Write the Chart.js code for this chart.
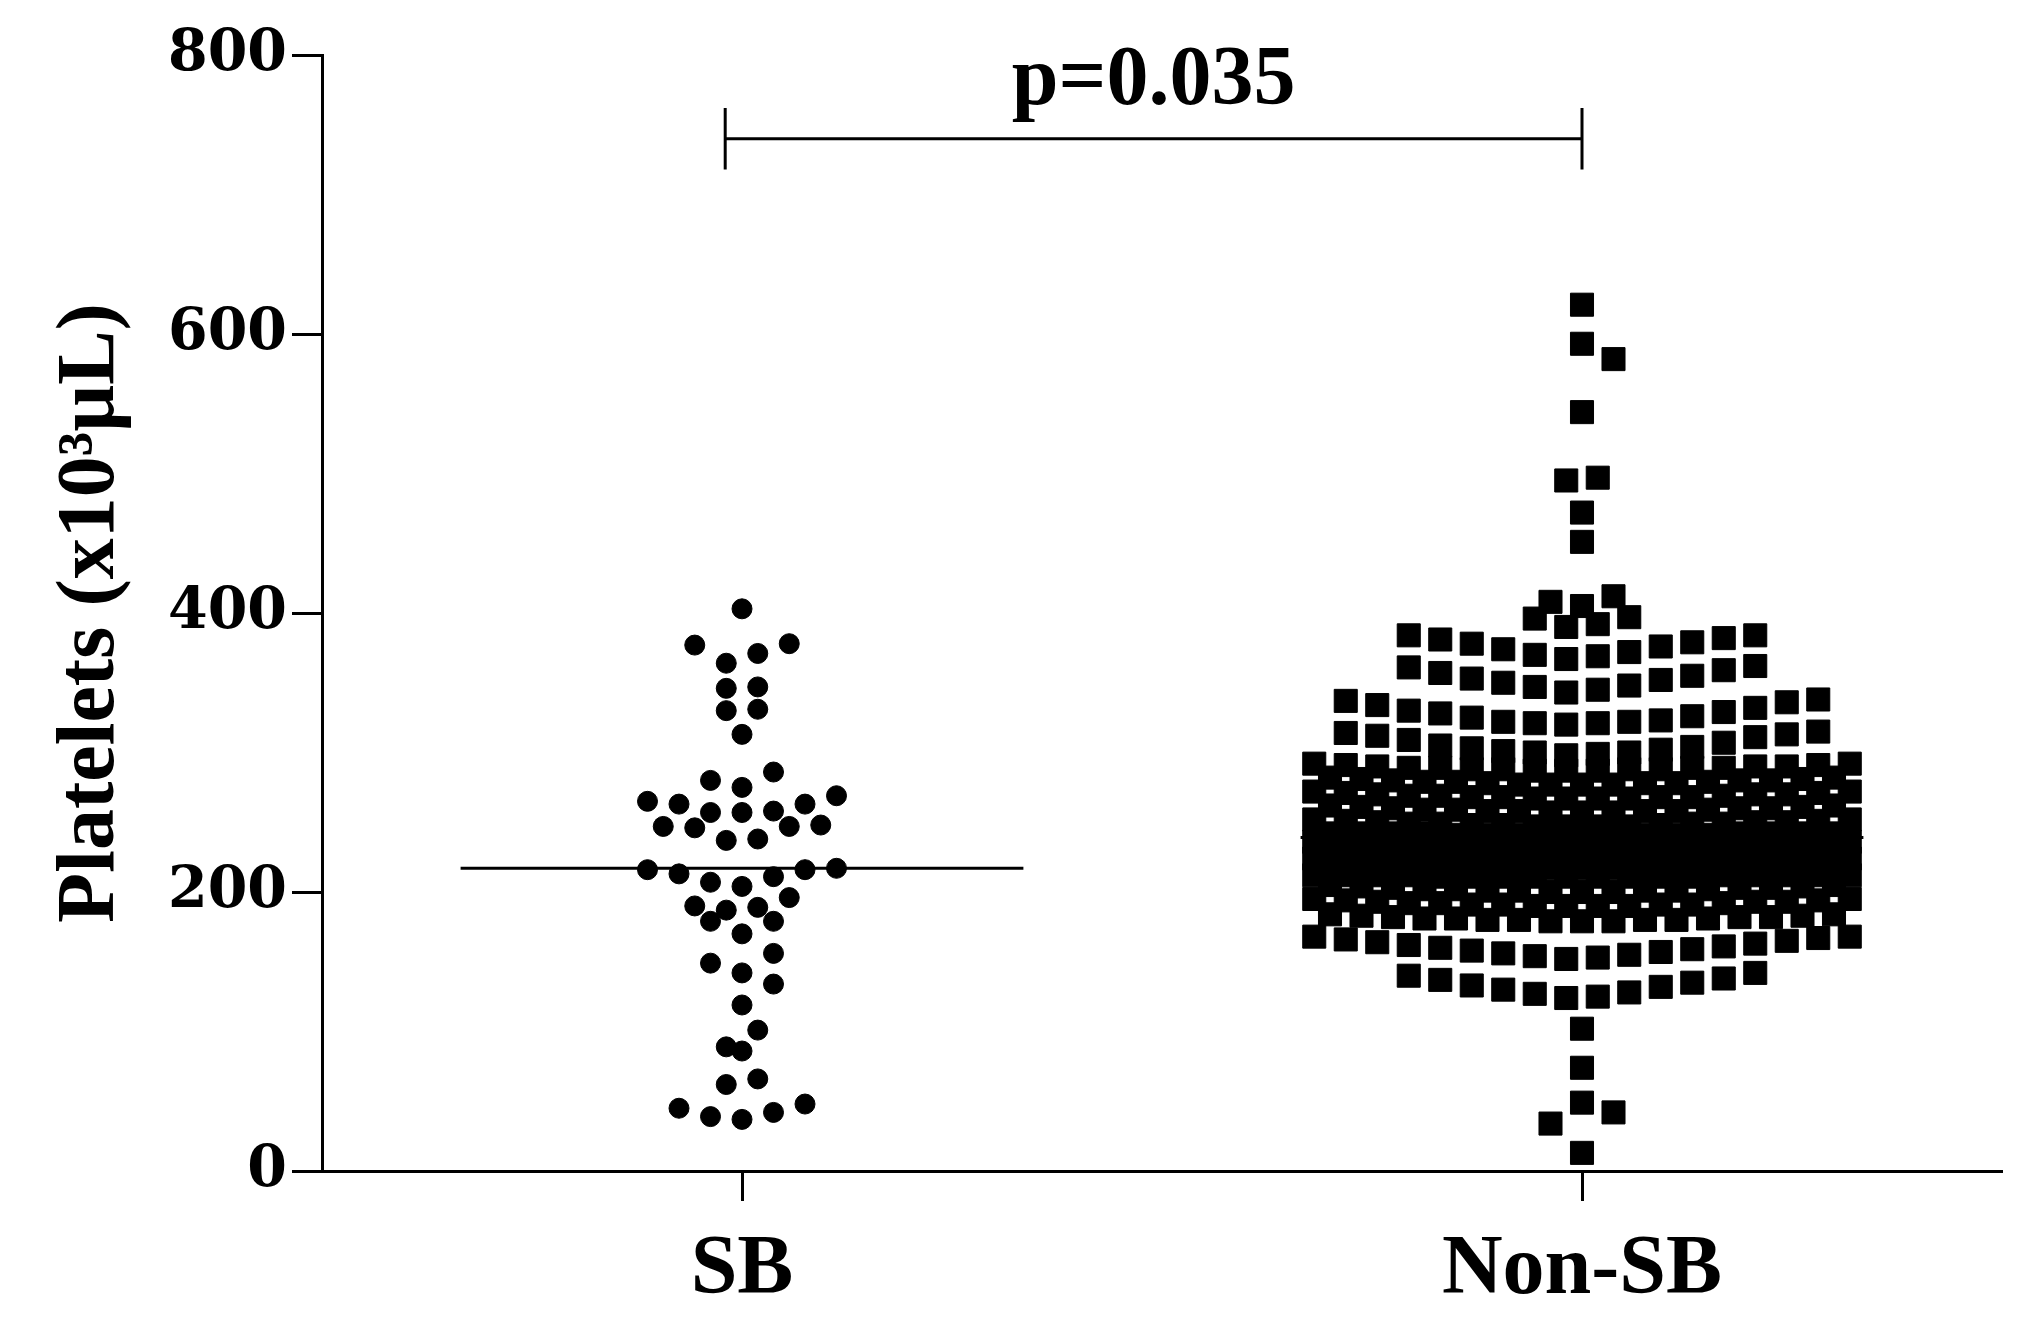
<!DOCTYPE html>
<html>
<head>
<meta charset="utf-8">
<title>Platelets SB vs Non-SB</title>
<script src="https://cdn.jsdelivr.net/npm/chart.js@4.4.0/dist/chart.umd.min.js"></script>
<style>
  body { margin: 0; background: #fff; }
  canvas { display: block; }
</style>
</head>
<body>
<canvas id="myChart" width="2038" height="1340"></canvas>
<script>
// groups on the x axis
var groups = ['SB', 'Non-SB'];

// platelet counts (x10^3/uL)
var sbValues = [403, 378, 377, 371, 364, 347, 346, 331, 330, 313,
    286, 280, 275, 269, 265, 263, 263, 258, 257, 257,
    248, 247, 247, 246, 238, 237, 217, 216, 216, 213,
    211, 207, 204, 196, 190, 189, 187, 179, 179, 170,
    156, 149, 142, 134, 119, 101, 89, 86, 66, 62,
    48, 45, 42, 39, 37];

var nonSbValues = [
    621, 593, 582, 544, 497, 495, 472, 451, 412, 408, 405, 397, 396, 392, 390,
    384, 384, 382, 381, 379, 378, 376, 374, 372, 370, 369, 367,
    362, 361, 359, 357, 355, 353, 352, 350, 348, 347, 345, 343,
    338, 337, 336, 334, 332, 330, 329, 328, 326, 325, 323, 322, 322, 321, 321, 320,
    315, 314, 313, 312, 311, 309, 307, 305, 304, 303, 302, 301, 300, 300, 299, 298,
    292, 292, 291, 291, 290, 290, 290, 289, 289, 289, 289, 288, 288, 288, 288, 287, 287, 287,
    282, 282, 281, 281, 280, 280, 280, 279, 279, 279, 278, 278, 278, 277, 277, 277, 277,
    272, 272, 271, 271, 270, 270, 270, 269, 269, 269, 268, 268, 268, 268, 267, 267, 267, 267,
    262, 262, 261, 261, 260, 260, 260, 259, 259, 259, 258, 258, 258, 258, 257, 257, 257,
    252, 252, 251, 251, 250, 250, 250, 249, 249, 249, 249, 248, 248, 248, 247, 247, 247, 247,
    242, 242, 242, 242, 242, 242, 242, 242, 241, 241, 241, 241, 241, 241, 241, 241, 241,
    236, 236, 236, 236, 236, 236, 236, 236, 236, 235, 235, 235, 235, 235, 235, 235, 235, 235,
    230, 230, 230, 230, 230, 230, 230, 230, 229, 229, 229, 229, 229, 229, 229, 229, 229,
    224, 224, 224, 224, 224, 224, 224, 224, 224, 223, 223, 223, 223, 223, 223, 223, 223, 223,
    218, 218, 218, 218, 218, 218, 218, 218, 217, 217, 217, 217, 217, 217, 217, 217, 217,
    212, 212, 212, 212, 212, 212, 212, 212, 212, 211, 211, 211, 211, 211, 211, 211, 211, 211,
    205, 205, 204, 204, 203, 203, 203, 202, 202, 202, 201, 201, 201, 201, 200, 200, 200,
    195, 195, 194, 194, 193, 193, 193, 192, 192, 192, 191, 191, 191, 191, 190, 190, 190, 190,
    184, 184, 183, 183, 182, 182, 182, 181, 181, 181, 180, 180, 180, 180, 179, 179, 179,
    168, 168, 167, 166, 165, 164, 163, 162, 161, 160, 159, 158, 157, 156, 155, 154, 153, 152,
    142, 140, 138, 137, 135, 133, 132, 130, 128, 127, 125, 124,
    102, 74, 49, 42, 34, 13
];

// median lines and the significance bracket
var medians = [217, 239];
var yTicks = [0, 200, 400, 600, 800];
var pText = 'p=0.035';
var bracketSpan = [0.98, 2.0];
var bracketY = 740;

var serif = "'Liberation Serif', 'Times New Roman', serif";

// Prism-like column scatter: values are grouped in rows, each row centred on the group,
// lowest values in the middle of a row
function layoutGroup(values, center, opts) {
    var sorted = values.slice().sort(function (a, b) { return b - a; });
    var rows = [], cur = [];
    sorted.forEach(function (v) {
        if (cur.length && (cur[0] - v > opts.span || cur[cur.length - 1] - v > opts.gap || cur.length >= opts.cap)) {
            rows.push(cur);
            cur = [];
        }
        cur.push(v);
    });
    if (cur.length) rows.push(cur);

    var placed = [];
    rows.forEach(function (row) {
        var n = row.length;
        var slots = [];
        for (var i = 0; i < n; i++) slots.push(i - (n - 1) / 2);
        slots.sort(function (a, b) { return Math.abs(a) - Math.abs(b) || a - b; });
        var asc = row.slice().sort(function (a, b) { return a - b; });
        var shift = 0;
        if (n <= 2) { // nudge small rows sideways if they sit on top of the row above
            var tries = [0, 1, -1];
            for (var t = 0; t < tries.length; t++) {
                var ok = asc.every(function (v, i) {
                    var off = slots[i] + tries[t];
                    return placed.every(function (p) {
                        return Math.abs(p.off - off) >= 0.9 || Math.abs(p.y - v) >= opts.minSep;
                    });
                });
                if (ok) { shift = tries[t]; break; }
            }
        }
        asc.forEach(function (v, i) { placed.push({off: slots[i] + shift, y: v}); });
    });
    return placed.map(function (p) { return {x: center + p.off * opts.step, y: p.y}; });
}

var sbPoints = layoutGroup(sbValues, 1, {span: 14, gap: 1000, cap: 9, step: 0.0375, minSep: 15.5});
var nonSbPoints = layoutGroup(nonSbValues, 2, {span: 22, gap: 4.5, cap: 18, step: 0.0375, minSep: 17});

function medianLine(i) {
    return [{x: i + 1 - 0.335, y: medians[i]}, {x: i + 1 + 0.335, y: medians[i]}];
}

var b0 = bracketSpan[0], b1 = bracketSpan[1];
var bracketPts = [
    {x: b0, y: bracketY + 22}, {x: b0, y: bracketY - 22}, {x: b0, y: bracketY},
    {x: b1, y: bracketY}, {x: b1, y: bracketY + 22}, {x: b1, y: bracketY - 22}
];

var pLabelPlugin = {
    id: 'pLabel',
    afterDatasetsDraw: function (chart) {
        var ctx = chart.ctx, xs = chart.scales.x, ys = chart.scales.y;
        ctx.save();
        ctx.font = 'bold 84px ' + serif;
        ctx.fillStyle = '#000';
        ctx.textAlign = 'center';
        ctx.textBaseline = 'alphabetic';
        ctx.fillText(pText, xs.getPixelForValue((b0 + b1) / 2), ys.getPixelForValue(bracketY + 25));
        ctx.restore();
    }
};

var ctx = document.getElementById('myChart').getContext('2d');
var chart = new Chart(ctx, {
    type: 'scatter',
    data: {
        datasets: [
            {label: 'SB median', data: medianLine(0), showLine: true, borderColor: '#000', borderWidth: 3, pointRadius: 0, order: 0, clip: false},
            {label: 'Non-SB median', data: medianLine(1), showLine: true, borderColor: '#000', borderWidth: 3, pointRadius: 0, order: 0, clip: false},
            {label: 'bracket', data: bracketPts, showLine: true, borderColor: '#000', borderWidth: 3, pointRadius: 0, order: 0, clip: false},
            {label: groups[0], data: sbPoints, pointStyle: 'circle', pointRadius: 10, borderWidth: 1,
                backgroundColor: '#000', borderColor: '#000', order: 1, clip: false},
            {label: groups[1], data: nonSbPoints, pointStyle: 'rect', pointRadius: 16.3, borderWidth: 1,
                backgroundColor: '#000', borderColor: '#000', order: 1, clip: false}
        ]
    },
    options: {
        responsive: false,
        devicePixelRatio: 1,
        animation: false,
        events: [],
        layout: {padding: {left: 0, top: 55, right: 36, bottom: 0}},
        plugins: {legend: {display: false}, tooltip: {enabled: false}},
        scales: {
            x: {
                type: 'linear',
                min: 0.5,
                max: 2.5,
                afterBuildTicks: function (scale) {
                    scale.ticks = groups.map(function (g, i) { return {value: i + 1}; });
                },
                afterFit: function (scale) { scale.height = 169; },
                ticks: {
                    callback: function (v) { return groups[v - 1]; },
                    font: {family: serif, size: 84, weight: 'bold'},
                    color: '#000',
                    padding: 20,
                    maxRotation: 0
                },
                grid: {display: true, drawOnChartArea: false, drawTicks: true, tickLength: 30, tickWidth: 3, tickColor: '#000'},
                border: {display: true, color: '#000', width: 3}
            },
            y: {
                min: 0,
                max: 800,
                afterBuildTicks: function (scale) {
                    scale.ticks = yTicks.map(function (v) { return {value: v}; });
                },
                afterFit: function (scale) { scale.width = 322; },
                ticks: {
                    font: {family: "'DejaVu Serif', serif", size: 57, weight: 'bold'},
                    color: '#000',
                    padding: 5
                },
                grid: {display: true, drawOnChartArea: false, drawTicks: true, tickLength: 30, tickWidth: 3, tickColor: '#000'},
                border: {display: true, color: '#000', width: 3},
                title: {
                    display: true,
                    text: 'Platelets (x10³μL)',
                    font: {family: serif, size: 82, weight: 'bold'},
                    color: '#000',
                    padding: {top: 43, bottom: 0}
                }
            }
        }
    },
    plugins: [pLabelPlugin]
});
</script>
</body>
</html>
